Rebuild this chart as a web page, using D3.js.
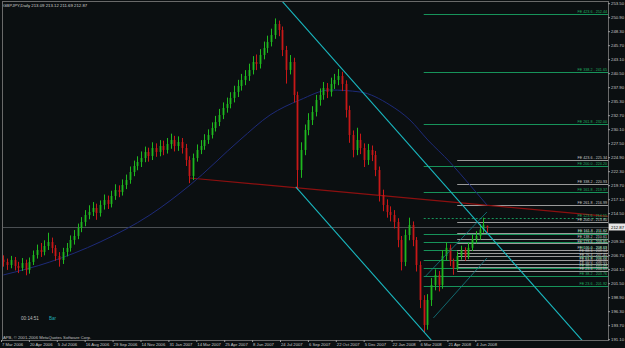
<!DOCTYPE html>
<html><head><meta charset="utf-8">
<script src="https://cdn.jsdelivr.net/npm/d3@7"></script>
<style>html,body{margin:0;padding:0;background:#0b0f11;}svg{display:block}</style>
</head><body>
<svg id="c" width="625" height="348"></svg>
<script>
const opens=[206.80,206.37,205.81,206.74,205.63,205.26,206.18,204.88,206.37,207.67,208.60,208.23,209.34,210.08,208.97,207.48,206.74,208.23,208.97,210.46,211.20,212.68,213.80,215.10,215.66,216.40,215.47,216.96,217.88,217.14,218.63,219.74,219.37,220.67,221.60,223.08,224.20,224.94,225.68,226.80,226.05,227.54,226.80,227.91,227.17,228.28,229.03,227.91,228.65,227.54,225.31,222.34,225.68,227.17,227.91,229.03,229.95,231.25,232.37,233.67,234.97,235.71,236.83,237.94,239.05,240.17,240.91,242.03,243.51,243.14,244.81,246.11,247.22,248.52,250.57,249.45,245.74,242.03,243.51,237.38,223.45,227.17,230.88,232.74,234.23,236.45,237.38,238.68,237.94,239.43,240.17,240.91,239.43,234.60,229.95,227.17,229.03,227.54,225.31,227.17,226.24,223.45,218.81,216.96,215.66,215.10,213.80,210.46,206.37,211.38,213.24,210.46,205.81,199.31,194.67,199.31,202.10,203.96,202.10,207.50,209.00,206.50,205.20,207.50,208.60,207.40,209.00,210.60,211.20,212.40,213.09];
const highs=[207.6,207.0,207.5,207.3,206.4,207.1,206.8,207.2,208.5,209.6,209.9,210.4,211.8,210.9,209.5,208.2,209.0,209.9,211.3,212.3,213.5,214.7,216.0,216.9,217.5,217.2,217.8,218.9,218.7,219.6,220.8,220.6,221.7,222.6,224.1,225.2,226.0,226.9,227.8,227.6,228.6,228.4,229.0,228.9,229.4,230.2,229.8,229.7,229.4,228.3,226.0,226.5,228.2,229.0,230.1,231.0,232.3,233.5,234.8,236.0,236.9,237.9,239.1,240.2,241.3,242.0,243.2,244.6,244.9,245.9,247.3,248.4,249.7,251.6,251.2,250.1,246.5,244.8,244.3,238.0,228.6,231.9,234.0,235.3,237.4,238.6,239.8,239.6,240.6,241.3,242.2,241.7,240.1,235.4,230.8,231.3,230.2,228.4,228.3,228.0,227.0,224.1,219.8,218.0,216.7,216.0,214.5,211.2,212.4,214.6,213.9,211.0,206.5,200.2,200.4,203.4,205.0,204.7,208.6,210.0,209.6,207.0,208.3,209.4,209.1,209.9,211.4,212.1,213.4,214.6,213.12];
const lows=[205.5,204.9,205.2,204.8,204.3,204.7,203.9,204.2,205.8,207.0,207.3,207.6,208.6,208.0,206.6,205.5,206.0,207.4,208.3,209.6,210.6,211.9,213.0,214.3,214.9,214.2,214.8,216.1,216.2,216.5,217.9,218.4,218.7,219.9,220.9,222.3,223.4,224.0,224.9,225.0,225.3,225.9,226.0,226.2,226.5,227.4,226.9,227.0,226.5,224.2,221.0,221.6,225.0,226.4,227.2,228.3,229.3,230.6,231.6,232.9,234.1,234.9,236.0,237.0,238.2,239.2,240.0,241.2,242.0,242.3,244.0,245.2,246.4,247.8,248.3,244.6,239.5,241.2,236.0,219.8,222.0,226.2,229.9,231.8,233.4,235.4,236.5,236.8,237.1,238.5,239.2,238.1,233.2,228.5,225.8,226.2,226.4,224.0,224.4,225.1,222.3,217.6,215.8,214.6,213.9,212.6,209.1,204.8,205.6,210.4,209.3,204.6,197.8,193.3,193.8,198.2,201.1,200.9,201.4,206.6,205.6,204.0,204.8,206.8,206.6,206.9,208.4,209.8,210.5,211.8,211.69];
const closes=[206.37,205.81,206.74,205.63,205.26,206.18,204.88,206.37,207.67,208.60,208.23,209.34,210.08,208.97,207.48,206.74,208.23,208.97,210.46,211.20,212.68,213.80,215.10,215.66,216.40,215.47,216.96,217.88,217.14,218.63,219.74,219.37,220.67,221.60,223.08,224.20,224.94,225.68,226.80,226.05,227.54,226.80,227.91,227.17,228.28,229.03,227.91,228.65,227.54,225.31,222.34,225.68,227.17,227.91,229.03,229.95,231.25,232.37,233.67,234.97,235.71,236.83,237.94,239.05,240.17,240.91,242.03,243.51,243.14,244.81,246.11,247.22,248.52,250.57,249.45,245.74,242.03,243.51,237.38,223.45,227.17,230.88,232.74,234.23,236.45,237.38,238.68,237.94,239.43,240.17,240.91,239.43,234.60,229.95,227.17,229.03,227.54,225.31,227.17,226.24,223.45,218.81,216.96,215.66,215.10,213.80,210.46,206.37,211.38,213.24,210.46,205.81,199.31,194.67,199.31,202.10,203.96,202.10,207.50,209.00,206.50,205.20,207.50,208.60,207.40,209.00,210.60,211.20,212.40,213.30,212.87];

// moving average (sampled at bar positions)
const maBars=[0,12.5,26,39.4,50.2,63.6,71.7,79.7,87.8,95.9,103.9,109.3,114.1,120,125.4,130];
const maValues=[203.96,206.37,210.08,215.10,220.67,229.03,233.67,236.45,238.31,237.94,235.53,232.74,229.03,224.94,220.67,216.96];

const dateLabels=["7 Mar 2006","20 Apr 2006","5 Jul 2006","16 Aug 2006","29 Sep 2006","14 Nov 2006","31 Jan 2007","14 Mar 2007","25 Apr 2007","8 Jun 2007","24 Jul 2007","6 Sep 2007","22 Oct 2007","5 Dec 2007","22 Jan 2008","6 Mar 2008","21 Apr 2008","4 Jun 2008"];
const priceTicks=[191.10,193.70,196.30,198.90,201.50,204.10,206.70,209.30,211.90,214.50,217.10,219.70,222.30,224.90,227.50,230.10,232.70,235.30,237.90,240.50,243.10,245.70,248.30,250.90,253.50];

const feGreenRatios=[23.6,38.2,50.0,61.8,76.4,88.6,100.0,123.6,161.8,200.0,261.8,338.2,423.6];
const feGreenValues=[201.92,203.76,205.26,206.75,208.59,210.13,211.57,214.55,219.37,224.20,232.00,241.65,252.44];
const feGrayRatios=[23.6,38.2,50.0,61.8,76.4,88.6,100.0,123.6,138.2,161.8,200.0,261.8,338.2,423.6];
const feGrayValues=[204.69,205.44,206.05,206.66,207.41,208.04,208.63,209.85,210.61,211.82,213.80,216.99,220.93,225.34];

// trend line anchors [bar, price]
const redAnchors=[[50,221.97],[111.5,218.07]];
const channelAnchors=[[111.5,226.24],[143.6,201.17]];
const channelLowStart=[78.6,220.30];
const rallyUpper=[[113.3,203.59],[130,215.66]];
const rallyLower=[[115.6,195.97],[130,207.11]];

const title="GBPJPY,Daily  213.09 213.12 211.69 212.87";
const bid=212.87;

const svg=d3.select("#c");
const W=625,H=348, L=2, R=608, T=2, B=340;
svg.append("rect").attr("width",W).attr("height",H).attr("fill","#0b0f11");

const x=d3.scaleLinear().domain([0,7.5]).range([1.5,1.5+27.9]);
const bx=i=>x(i+0.5);
const y=d3.scaleLinear().domain([191.10,253.50]).range([344.2,8.2]);

svg.append("defs").append("clipPath").attr("id","clip").append("rect")
  .attr("x",L).attr("y",T).attr("width",R-L).attr("height",B-T);
const g=svg.append("g").attr("clip-path","url(#clip)");

// bid line
g.append("line").attr("x1",L).attr("x2",R).attr("y1",Math.round(y(bid))+0.5).attr("y2",Math.round(y(bid))+0.5)
 .attr("stroke","#4a4e52").attr("stroke-width",1);

// fib expansion lines
const feG=g.append("g");
feGreenValues.forEach((v,k)=>{
  const yy=Math.round(y(v))+0.5;
  feG.append("line").attr("x1",bx(113)).attr("x2",R).attr("y1",yy).attr("y2",yy)
   .attr("stroke","#17935a").attr("stroke-width",1)
   .attr("stroke-dasharray",feGreenRatios[k]===123.6?"2,2":null);
});
feGrayValues.forEach((v,k)=>{
  const yy=Math.round(y(v))+0.5;
  feG.append("line").attr("x1",bx(122)).attr("x2",R).attr("y1",yy).attr("y2",yy)
   .attr("stroke","#9a9a9a").attr("stroke-width",1);
});

// red trend line (ray)
const redSlope=(redAnchors[1][1]-redAnchors[0][1])/(redAnchors[1][0]-redAnchors[0][0]);
const redEnd=x.invert(R)-0.5;
g.append("line").attr("x1",bx(redAnchors[0][0])).attr("y1",y(redAnchors[0][1]))
 .attr("x2",bx(redEnd)).attr("y2",y(redAnchors[0][1]+redSlope*(redEnd-redAnchors[0][0])))
 .attr("stroke","#8c1010").attr("stroke-width",1.2);

// moving average
g.append("path").datum(maBars.map((b,k)=>[bx(b),y(maValues[k])]))
 .attr("d",d3.line().curve(d3.curveMonotoneX)).attr("fill","none")
 .attr("stroke","#1d2a78").attr("stroke-width",1);

// candles
const cg=g.append("g");
closes.forEach((c,i)=>{
  const o=opens[i], up=c>=o, col=up?"#1fb81f":"#c81818";
  const xx=Math.round(bx(i))+0.5;
  cg.append("line").attr("x1",xx).attr("x2",xx).attr("y1",y(highs[i])).attr("y2",y(lows[i]))
    .attr("stroke",col).attr("stroke-width",1);
  const y1=y(Math.max(o,c)), y2=y(Math.min(o,c));
  cg.append("rect").attr("x",xx-0.9).attr("width",1.8).attr("y",y1).attr("height",Math.max(0.8,y2-y1))
    .attr("fill",col);
});

// cyan channel
const chA=channelAnchors[0], chB=channelAnchors[1];
const chSlope=(chB[1]-chA[1])/(chB[0]-chA[0]);
const chStart=x.invert(270)-0.5, chEnd=x.invert(R)-0.5;
g.append("line").attr("x1",bx(chStart)).attr("y1",y(chA[1]+chSlope*(chStart-chA[0])))
 .attr("x2",bx(chEnd)).attr("y2",y(chA[1]+chSlope*(chEnd-chA[0])))
 .attr("stroke","#19b8c0").attr("stroke-width",1.1);
g.append("line").attr("x1",bx(channelLowStart[0])).attr("y1",y(channelLowStart[1]))
 .attr("x2",bx(channelLowStart[0]+45)).attr("y2",y(channelLowStart[1]+chSlope*45))
 .attr("stroke","#19b8c0").attr("stroke-width",1.1);

// thin rally channel
[rallyUpper,rallyLower].forEach(p=>{
  g.append("line").attr("x1",bx(p[0][0])).attr("y1",y(p[0][1]))
   .attr("x2",bx(p[1][0])).attr("y2",y(p[1][1])).attr("stroke","#137f86").attr("stroke-width",0.8);
});

// frame
svg.append("rect").attr("x",L+0.5).attr("y",T-0.5).attr("width",R-L).attr("height",B-T+1)
 .attr("fill","none").attr("stroke","#6a6a6a").attr("stroke-width",1);

const font="'Liberation Sans',Arial,sans-serif";
// fib labels
feGreenValues.forEach((v,k)=>{
  svg.append("text").attr("x",R-1).attr("y",y(v)-0.7).attr("text-anchor","end")
   .attr("font-family",font).attr("font-size",3.7).attr("fill","#1fae60")
   .text("FE "+feGreenRatios[k].toFixed(1)+" - "+v.toFixed(2));
});
feGrayValues.forEach((v,k)=>{
  svg.append("text").attr("x",R-1).attr("y",y(v)-0.7).attr("text-anchor","end")
   .attr("font-family",font).attr("font-size",3.7).attr("fill","#c8c8c8")
   .text("FE "+feGrayRatios[k].toFixed(1)+" - "+v.toFixed(2));
});

// price axis
priceTicks.forEach(v=>{
  const yy=y(v);
  svg.append("line").attr("x1",R).attr("x2",R+2).attr("y1",yy-4.5).attr("y2",yy-4.5).attr("stroke","#9a9a9a");
  svg.append("text").attr("x",R+3).attr("y",yy-3).attr("font-family",font).attr("font-size",4.3)
   .attr("fill","#c8c8c8").text(v.toFixed(2));
});
// bid box
svg.append("rect").attr("x",R+1).attr("y",y(bid)-3.5).attr("width",16).attr("height",7).attr("fill","#e6e6e6");
svg.append("text").attr("x",R+3).attr("y",y(bid)+1.6).attr("font-family",font).attr("font-size",4.3)
 .attr("fill","#000").text(bid.toFixed(2));

// date axis
dateLabels.forEach((d,k)=>{
  const xx=x(k*7.5);
  svg.append("line").attr("x1",xx).attr("x2",xx).attr("y1",B).attr("y2",B+2).attr("stroke","#9a9a9a");
  svg.append("text").attr("x",xx+0.5).attr("y",346.3).attr("font-family",font).attr("font-size",4.2)
   .attr("fill","#c8c8c8").text(d);
});

// title & misc texts
svg.append("text").attr("x",3).attr("y",6.6).attr("font-family",font).attr("font-size",4.3)
 .attr("fill","#d0d0d0").text(title);
svg.append("text").attr("x",3).attr("y",338.5).attr("font-family",font).attr("font-size",4.2)
 .attr("fill","#c0c0c0").text("APB, © 2001-2006 MetaQuotes Software Corp.");
svg.append("text").attr("x",21).attr("y",319.5).attr("font-family",font).attr("font-size",4.6)
 .attr("fill","#bdbdbd").text("00:14:51");
svg.append("text").attr("x",49).attr("y",319.5).attr("font-family",font).attr("font-size",4.6)
 .attr("fill","#20a8b0").text("Bar");
</script>
</body></html>
